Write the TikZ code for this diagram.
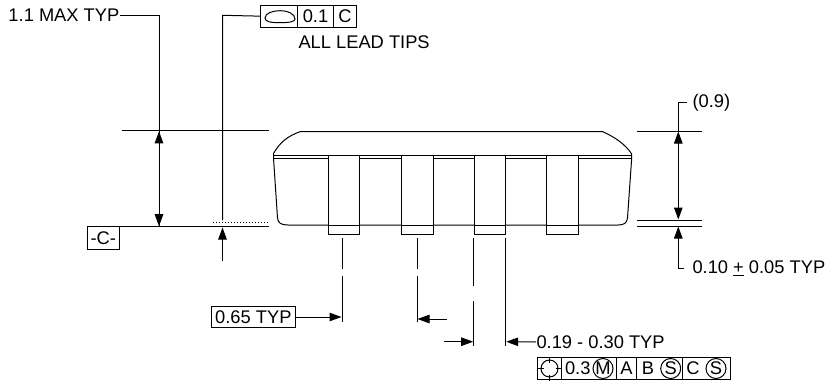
\documentclass[tikz,border=0pt]{standalone}
\usepackage{fontspec}
\setmainfont{Liberation Sans}
\usetikzlibrary{arrows.meta, positioning}

\tikzset{
	dimtip/.style = {{Triangle[length=12pt, width=8.5pt]}-},
	tipdim/.style = {-{Triangle[length=12pt, width=8.5pt]}},
	dimlabel/.style = {inner sep=0pt, font=\fontsize{18.3}{19}\selectfont},
	framebox/.style = {draw, line width=1pt, fill=white, outer sep=0pt},
	leadbox/.style = {draw, line width=1pt},
}

\begin{document}
\begin{tikzpicture}[x=1pt, y=-1pt, line width=1pt]
	\useasboundingbox (0,0) rectangle (825,391);

	% package body
	\draw (273.5,158) -- (273.5,153.5) .. controls (280,142) and (288,136) .. (300,131.7) -- (602.7,131.7)
	.. controls (615,137) and (626,145) .. (631.7,154) -- (631.7,158);
	\draw (273.5,155.7) -- (631.7,155.7) (273.5,158.7) -- (631.7,158.7);
	\draw (273.5,158) -- (277.5,218) .. controls (278,223) and (281,225) .. (288,225) -- (618,225)
	.. controls (624,225) and (627,223) .. (627.5,218) -- (631.7,158);

	% leads
	\foreach \leadx in {328, 401.7, 474.3, 546.7} {
		\draw [leadbox, fill=white] (\leadx,155.7) rectangle +(31.3,78.6);
		\draw (\leadx,225) -- +(31.3,0);
	}

	% left datum lines
	\coordinate (topl) at (122,130.7);
	\coordinate (topr) at (268.7,130.7);
	\coordinate (datumr) at (269,226.7);
	\coordinate (dotl) at (213.3,222.3);
	\coordinate (dotr) at (268,222.3);
	\node (datum) [framebox, dimlabel, minimum width=32pt, minimum height=22.6pt, anchor=north west] at (87.3,226.7) {-C-};
	\draw (topl) -- (topr);
	\draw (datum.north east) -- (datumr);
	\draw [dotted] (dotl) -- (dotr);

	% total height
	\node (maxh) [dimlabel, anchor=west] at (8,15.3) {1.1 MAX TYP};
	\coordinate (maxc) at (159,15.3);
	\coordinate (maxt) at (159,131.3);
	\coordinate (maxb) at (159,226.2);
	\draw (maxh.east) -- (maxc) -- (maxb);
	\draw [dimtip] (maxt) -- (159,160);
	\draw [tipdim] (159,190) -- (maxb);

	% lead tips frame
	\node (flatcell) [framebox, minimum width=37.7pt, minimum height=22.3pt, anchor=north west] at (260,5) {};
	\node (flatval) [framebox, dimlabel, minimum width=35.6pt, minimum height=22.3pt, right = 0pt of flatcell] {0.1};
	\node (flatdat) [framebox, dimlabel, minimum width=23.4pt, minimum height=22.3pt, right = 0pt of flatval] {C};
	\node (tips) [dimlabel, anchor=north west] at (298,35.5) {ALL LEAD TIPS};
	\draw (265,18) .. controls (265,13) and (273,10.7) .. (280,10.7) .. controls (288,10.7) and (295,14) .. (295,19)
	.. controls (295,21.5) and (290,22.7) .. (280,22.7) .. controls (270,22.7) and (265,21.5) .. (265,18) -- cycle;
	\coordinate (flatc) at (222.5,15.3);
	\coordinate (flatb) at (222.5,220);
	\coordinate (flatup) at (222.5,260.7);
	\coordinate (flatt) at (222.5,227.5);
	\draw (flatcell.west) -- (flatc) -- (flatb);
	\draw [tipdim] (flatup) -- (flatt);

	% lead center lines
	\foreach \cx in {342, 417} {
		\draw (\cx,238.3) -- (\cx,268.5);
		\draw (\cx,276) -- (\cx,321.7);
	}
	\draw (473.7,238.3) -- (473.7,286);
	\draw (473.7,301) -- (473.7,345.7);
	\draw (505.7,238.3) -- (505.7,346);

	% pitch
	\node (pitch) [framebox, dimlabel, minimum width=84.7pt, minimum height=20.6pt, anchor=north west] at (211,306.7) {0.65 TYP};
	\coordinate (pitchr) at (341.5,317);
	\draw [tipdim] (pitch.east) -- (pitchr);
	\coordinate (gapa) at (446.7,319);
	\coordinate (gapb) at (417.5,319);
	\coordinate (gapc) at (444,341.7);
	\coordinate (gapd) at (473.2,341.7);
	\draw [tipdim] (gapa) -- (gapb);
	\draw [tipdim] (gapc) -- (gapd);

	% lead width
	\node (width) [dimlabel, anchor=west] at (536,342) {0.19 - 0.30 TYP};
	\coordinate (widthr) at (506.2,341.7);
	\draw [tipdim] (width.west) -- (widthr);

	% position frame
	\node (poscell) [framebox, minimum width=23.6pt, minimum height=21.6pt, anchor=north west] at (537.7,357.7) {};
	\node (posval) [framebox, minimum width=55.4pt, minimum height=21.6pt, right = 0pt of poscell] {};
	\node (posa) [framebox, dimlabel, minimum width=19.3pt, minimum height=21.6pt, right = 0pt of posval] {A};
	\node (posb) [framebox, minimum width=46.7pt, minimum height=21.6pt, right = 0pt of posa] {};
	\node (posc) [framebox, minimum width=47.3pt, minimum height=21.6pt, right = 0pt of posb] {};
	\node (posnum) [dimlabel, anchor=west] at (564.5,368.5) {0.3};
	\node (posm) [circle, draw, dimlabel, minimum size=20pt] at (603,368.5) {M};
	\node (posbt) [dimlabel] at (648,368.5) {B};
	\node (poss) [circle, draw, dimlabel, minimum size=20pt] at (670.7,368.5) {S};
	\node (posct) [dimlabel] at (693,368.5) {C};
	\node (posr) [circle, draw, dimlabel, minimum size=20pt] at (716,368.5) {S};
	\node (target) [circle, draw, minimum size=17pt, inner sep=0pt] at (549.5,368.5) {};
	\draw (target.north) ++(0,-3) -- ++(0,6) (target.south) ++(0,-3) -- ++(0,6);
	\draw (target.west) ++(-3,0) -- ++(6,0) (target.east) ++(-3,0) -- ++(6,0);

	% right heights
	\coordinate (rtopl) at (636.7,131);
	\coordinate (rtopr) at (702.3,131);
	\coordinate (rmidl) at (636.7,220);
	\coordinate (rmidr) at (702.3,220);
	\coordinate (rlowl) at (636.7,226);
	\coordinate (rlowr) at (702.3,226);
	\draw (rtopl) -- (rtopr) (rmidl) -- (rmidr) (rlowl) -- (rlowr);
	\node (body) [dimlabel, anchor=west] at (692,102.5) {(0.9)};
	\node (stand) [dimlabel, anchor=west] at (692,268) {0.10 \underline{+} 0.05 TYP};
	\coordinate (bodyc) at (678.3,102.7);
	\coordinate (standc) at (678.3,268);
	\coordinate (dimt) at (678.3,131.5);
	\coordinate (dimm) at (678.3,219.5);
	\coordinate (diml) at (678.3,226.5);
	\draw (686.5,102.7) -- (bodyc) -- (dimt);
	\draw [dimtip] (dimt) -- (678.3,170);
	\draw [tipdim] (678.3,170) -- (dimm);
	\draw [tipdim] (standc) -- (diml);
	\draw (standc) -- (684,268);
\end{tikzpicture}
\end{document}
